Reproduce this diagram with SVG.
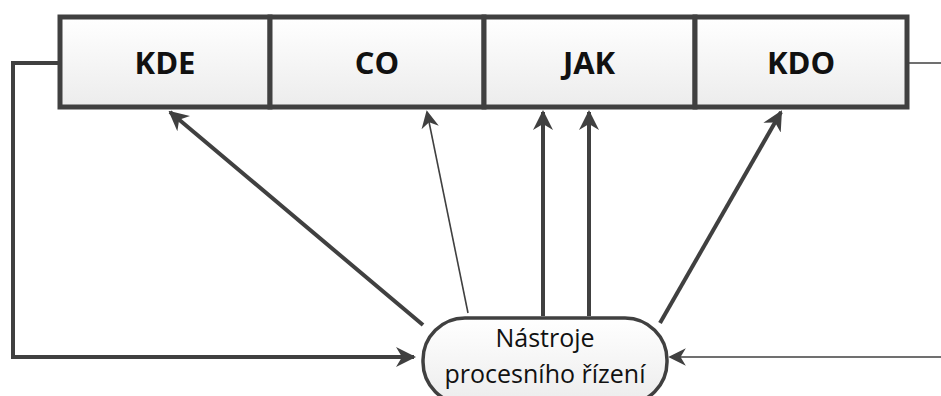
<svg xmlns="http://www.w3.org/2000/svg" width="941" height="396" viewBox="0 0 941 396">
  <defs>
    <linearGradient id="cellFill" x1="0" y1="0" x2="0" y2="1">
      <stop offset="0" stop-color="#ffffff"/>
      <stop offset="1" stop-color="#ececec"/>
    </linearGradient>
    <marker id="headBig" viewBox="0 0 10 10" refX="9" refY="5" markerWidth="5" markerHeight="5" orient="auto" markerUnits="strokeWidth">
      <path d="M0,0 L10,5 L0,10 L3,5 Z" fill="#404040"/>
    </marker>
    <marker id="headThin" viewBox="0 0 10 10" refX="9" refY="5" markerWidth="11" markerHeight="11" orient="auto" markerUnits="strokeWidth">
      <path d="M0,0 L10,5 L0,10 L3,5 Z" fill="#404040"/>
    </marker>
  </defs>
  <style>
    .cell { fill: url(#cellFill); stroke: #404040; stroke-width: 5; }
    .label { font-family: "Open Sans", "Liberation Sans", sans-serif; font-weight: bold; font-size: 31px; fill: #111; text-anchor: middle; }
    .toolText { font-family: "Open Sans", "Liberation Sans", sans-serif; font-size: 25px; fill: #111; text-anchor: middle; }
    .thick { stroke: #404040; stroke-width: 4; fill: none; }
    .thin { stroke: #404040; stroke-width: 1.6; fill: none; }
  </style>

  <!-- connectors -->
  <g id="connectors">
    <polyline class="thick" points="60,63 13,63 13,357 414,357" marker-end="url(#headBig)"/>
    <line class="thin" x1="907" y1="63" x2="941" y2="63"/>
    <line class="thin" x1="941" y1="357" x2="670" y2="357" marker-end="url(#headThin)"/>
    <line class="thick" x1="423" y1="325" x2="170" y2="112" marker-end="url(#headBig)"/>
    <line class="thin" x1="468" y1="313" x2="427" y2="112" marker-end="url(#headThin)"/>
    <line class="thick" x1="543" y1="316" x2="543" y2="112" marker-end="url(#headBig)"/>
    <line class="thick" x1="589" y1="316" x2="589" y2="112" marker-end="url(#headBig)"/>
    <line class="thick" x1="660" y1="323" x2="781" y2="112" marker-end="url(#headBig)"/>
  </g>

  <!-- top row of cells -->
  <g id="kde">
    <rect class="cell" x="60" y="17" width="210" height="90"/>
    <text class="label" x="165" y="74">KDE</text>
  </g>
  <g id="co">
    <rect class="cell" x="270" y="17" width="214" height="90"/>
    <text class="label" x="377" y="74">CO</text>
  </g>
  <g id="jak">
    <rect class="cell" x="484" y="17" width="211" height="90"/>
    <text class="label" x="589" y="74">JAK</text>
  </g>
  <g id="kdo">
    <rect class="cell" x="695" y="17" width="212" height="90"/>
    <text class="label" x="801" y="74">KDO</text>
  </g>

  <!-- tools node -->
  <g id="nastroje">
    <rect x="423" y="318" width="244" height="86" rx="42" ry="42" fill="url(#cellFill)" stroke="#404040" stroke-width="3.5"/>
    <text class="toolText" x="545" y="347">Nástroje</text>
    <text class="toolText" x="545" y="383">procesního řízení</text>
  </g>
</svg>
